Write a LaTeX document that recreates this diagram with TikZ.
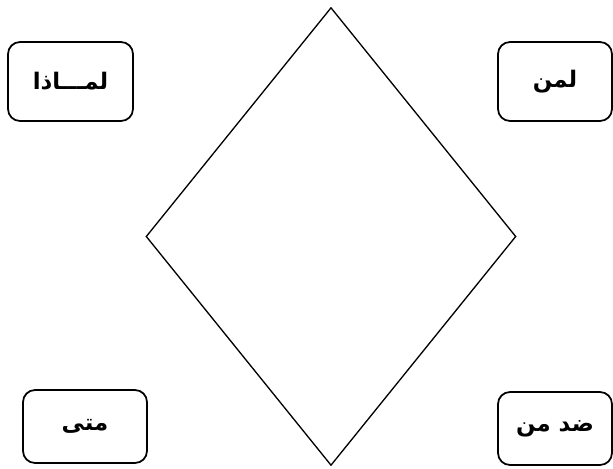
\documentclass[tikz,border=0pt]{standalone}
\usepackage{fontspec}
\newfontfamily\arabicfont[Script=Arabic]{DejaVu Sans}
\TeXXeTstate=1
\usetikzlibrary{shapes.geometric}

\begin{document}
\begin{tikzpicture}[
    x=0.02cm, y=-0.02cm,
    qbox/.style={draw, line width=1pt, rounded corners=0.24cm, inner sep=0pt,
                 font=\arabicfont\bfseries\fontsize{13}{15}\selectfont},
    rhomb/.style={draw, diamond, line width=0.75pt, inner sep=0pt,
                  minimum width=7.4cm, minimum height=9.16cm}
]
\useasboundingbox (0,0) rectangle (613,468);

\node[rhomb] (centre) at (331,236.5) {};

\node[qbox, minimum width=2.5cm, minimum height=1.58cm] (why) at (70.5,81.5)
  {\beginR لمـــاذا\endR};
\node[qbox, minimum width=2.28cm, minimum height=1.58cm] (whom) at (555,81.5)
  {\beginR لمن\endR};
\node[qbox, minimum width=2.48cm, minimum height=1.46cm] (when) at (85,426.5)
  {\beginR متى\endR};
\node[qbox, minimum width=2.28cm, minimum height=1.46cm] (against) at (555,428.5)
  {\beginR ضد من\endR};
\end{tikzpicture}
\end{document}
